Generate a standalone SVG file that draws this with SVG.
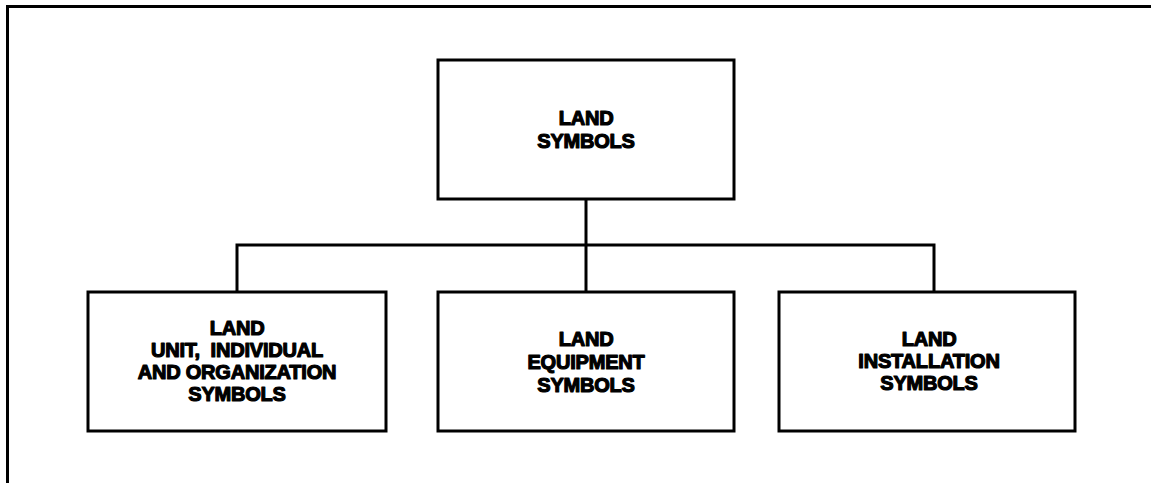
<svg xmlns="http://www.w3.org/2000/svg" width="1151" height="483" viewBox="0 0 1151 483">
<style>
.box{fill:#fff;stroke:#000;stroke-width:3}
.ln{fill:none;stroke:#000;stroke-width:3}
.t{font-family:"Liberation Sans",Arial,sans-serif;font-weight:bold;font-size:20px;fill:#000;stroke:#000;stroke-width:1.2;stroke-linejoin:round;text-anchor:middle;letter-spacing:-0.2px;white-space:pre}
</style>
<rect width="1151" height="483" fill="#fff"/>
<path class="ln" d="M7.5,483 V6.5 H1151"/>
<g id="connectors">
<path class="ln" d="M586,199 V245"/>
<path class="ln" d="M237,292 V245 H934 V292"/>
<path class="ln" d="M586,245 V292"/>
</g>
<g id="land-symbols">
<rect class="box" x="438" y="60" width="296" height="139"/>
<text class="t" x="586" y="125">LAND</text>
<text class="t" x="586" y="148">SYMBOLS</text>
</g>
<g id="land-unit">
<rect class="box" x="88" y="292" width="298" height="139"/>
<text class="t" x="237" y="335">LAND</text>
<text class="t" x="237" y="357" xml:space="preserve">UNIT,  INDIVIDUAL</text>
<text class="t" x="237" y="379">AND ORGANIZATION</text>
<text class="t" x="237" y="401">SYMBOLS</text>
</g>
<g id="land-equipment">
<rect class="box" x="438" y="292" width="296" height="139"/>
<text class="t" x="586" y="346">LAND</text>
<text class="t" x="586" y="369">EQUIPMENT</text>
<text class="t" x="586" y="392">SYMBOLS</text>
</g>
<g id="land-installation">
<rect class="box" x="779" y="292" width="296" height="139"/>
<text class="t" x="929" y="346">LAND</text>
<text class="t" x="929" y="368">INSTALLATION</text>
<text class="t" x="929" y="390">SYMBOLS</text>
</g>
</svg>
